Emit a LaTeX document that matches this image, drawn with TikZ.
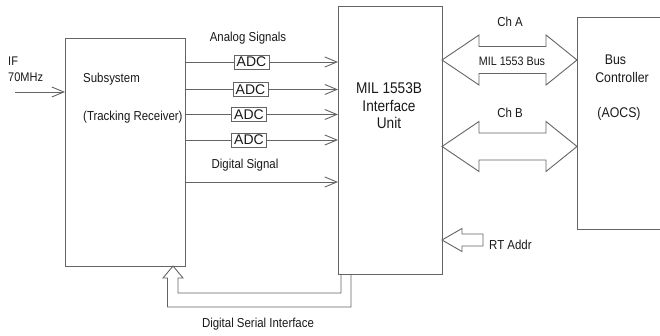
\documentclass[tikz,border=0pt]{standalone}
\usepackage{fontspec}
\setmainfont{Liberation Sans}[FakeStretch=0.88]
\newfontfamily\adcfont{Liberation Sans}
\usetikzlibrary{arrows.meta,calc}
\definecolor{ln}{RGB}{100,100,100}
\definecolor{tx}{RGB}{25,25,25}
\tikzset{
  box/.style={draw=ln, line width=0.9pt, outer sep=0pt, inner sep=0pt, anchor=north west},
  sig/.style={draw=ln, line width=0.9pt},
  arr/.style={sig, -{Straight Barb[length=12pt,width=10pt,line width=0.9pt]}},
  hollow/.style={draw=ln, line width=0.9pt, line join=miter},
  lbl/.style={text=tx, inner sep=0pt, font=\fontsize{13}{15}\selectfont},
  big/.style={text=tx, inner sep=0pt, align=center, font=\fontsize{15.5}{17.5}\selectfont},
  bct/.style={text=tx, inner sep=0pt, font=\fontsize{14}{16}\selectfont},
  adc/.style={draw=ln, line width=0.9pt, fill=white, text=tx, inner sep=0pt,
    minimum width=35pt, minimum height=14pt, outer sep=0pt, font=\adcfont\fontsize{14}{16}\selectfont},
}
\begin{document}
\begin{tikzpicture}[x=1pt,y=-1pt]
\useasboundingbox (0,0) rectangle (660,336);
% boxes
\node[box, minimum width=120pt, minimum height=228pt] (sub) at (65,38) {};
\node[box, minimum width=104pt, minimum height=268pt] (mil) at (338,6) {};
\node[box, minimum width=130pt, minimum height=212pt] (bc) at (577,17) {};
% box texts
\node[lbl, anchor=west] (subt1) at (83,79) {Subsystem};
\node[lbl, anchor=west] (subt2) at (83,117) {(Tracking Receiver)};
\node[big] (milt) at (389,106) {MIL 1553B\\Interface\\Unit};
\node[bct] (bct1) at (615.5,60) {Bus};
\node[bct] (bct2) at (622,77) {Controller};
\node[bct] (bct3) at (619,114) {(AOCS)};
% IF input
\node[lbl, anchor=west, font=\fontsize{12.5}{14}\selectfont] (if1) at (8,61) {IF};
\node[lbl, anchor=west, font=\fontsize{12.5}{14}\selectfont] (if2) at (8,77) {70MHz};
\coordinate (ifin) at (15,92);
\draw[arr] (ifin) -- (sub.west |- ifin);
% ADC lines
\node[lbl] (analog) at (248,38) {Analog Signals};
\node[adc] (adc1) at (251.5,62) {ADC};
\node[adc] (adc2) at (250.5,89.5) {ADC};
\node[adc] (adc3) at (249,114.5) {ADC};
\node[adc] (adc4) at (249,140) {ADC};
\foreach \i in {1,2,3,4}{
  \draw[sig] (sub.east |- adc\i) -- (adc\i.west);
  \draw[arr] (adc\i.east) -- (mil.west |- adc\i);
}
\node[lbl] (digital) at (245,165) {Digital Signal};
\coordinate (dsy) at (260,182);
\draw[arr] (sub.east |- dsy) -- (mil.west |- dsy);
% MIL 1553 bus channels
\node[lbl] (cha) at (510,22) {Ch A};
\node[lbl, font=\fontsize{12.2}{14}\selectfont] (busl) at (512,61) {MIL 1553 Bus};
\node[lbl] (chb) at (510,113) {Ch B};
\foreach \yy/\nm in {60/a, 146.5/b}{
  \coordinate (l\nm) at (mil.east |- 0,\yy);
  \coordinate (r\nm) at (bc.west |- 0,\yy);
  \draw[hollow] (l\nm) -- ++(37,-25) -- ++(0,11.5) -- ($(r\nm)+(-31,-13.5)$) -- ++(0,-11.5)
    -- (r\nm) -- ++(-31,25) -- ++(0,-11.5) -- ($(l\nm)+(37,13.5)$) -- ++(0,11.5) -- cycle;
}
% RT Addr
\coordinate (rt) at (mil.east |- 0,240);
\draw[hollow] (rt) -- ++(20,-11.5) -- ++(0,5.5) -- ++(21,0) -- ++(0,12) -- ++(-21,0) -- ++(0,5.5) -- cycle;
\node[lbl, anchor=west] (rtl) at (489,245) {RT Addr};
% Digital serial interface
\coordinate (dsTip) at ($(sub.south east)+(-12,0)$);
\coordinate (dsA) at ($(mil.south west)+(3,0)$);
\coordinate (dsB) at ($(mil.south west)+(13,0)$);
\draw[hollow] (dsA) -- (dsA |- 0,293) -- (178,293) -- (178,278) -- (183,278) -- (dsTip)
  -- (163,278) -- (167.5,278) -- (167.5,307) -- (dsB |- 0,307) -- (dsB);
\node[lbl] (dsi) at (258,324) {Digital Serial Interface};
\end{tikzpicture}
\end{document}
